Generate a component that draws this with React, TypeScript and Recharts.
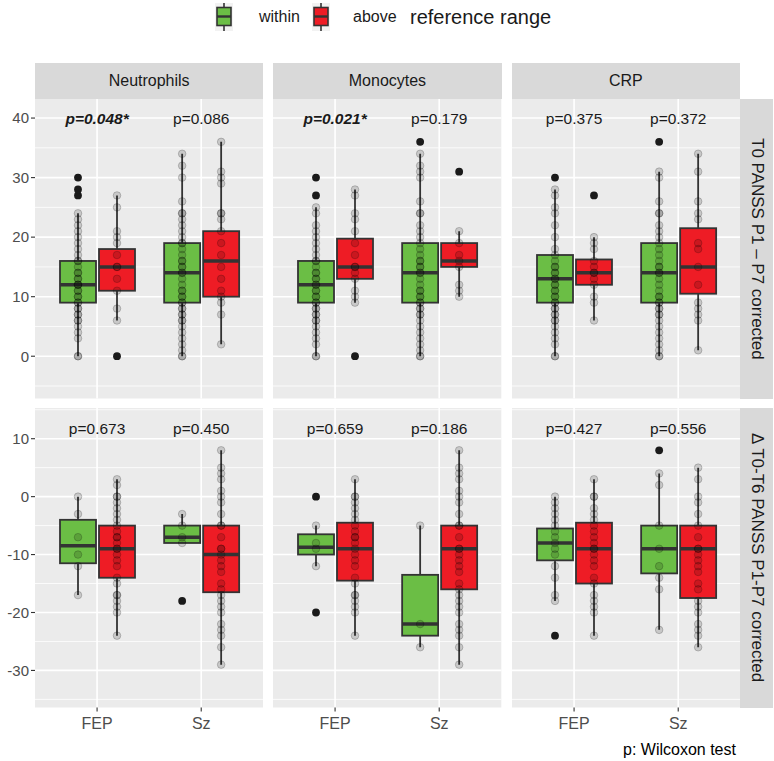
import React from 'react';
import { ComposedChart, Bar, XAxis, YAxis, CartesianGrid, ReferenceDot } from 'recharts';

const FONT = '"Liberation Sans", Arial, Helvetica, sans-serif';
const GREEN = '#6BBE45';
const RED = '#EE1C25';

const categories = ['FEP', 'Sz'];
const markers = ['Neutrophils', 'Monocytes', 'CRP'];
const rowLabels = ['T0 PANSS P1 – P7 corrected', 'Δ T0-T6 PANSS P1-P7 corrected'];

// box stats per category: [lower whisker, Q1, median, Q3, upper whisker]
const t0NeutWithin = [[0, 9, 12, 16, 24], [0, 9, 14, 19, 34]];
const t0NeutAbove = [[6, 11, 15, 18, 27], [2, 10, 16, 21, 36]];
const t0MonoWithin = [[0, 9, 12, 16, 25], [0, 9, 14, 19, 34]];
const t0MonoAbove = [[9, 13, 15, 19.75, 28], [10, 15, 16, 19, 21]];
const t0CrpWithin = [[0, 9, 13, 17, 28], [0, 9, 14, 19, 31]];
const t0CrpAbove = [[6, 12, 14, 16.25, 20], [1, 10.5, 15, 21.5, 34]];
const dNeutWithin = [[-17, -11.5, -8.5, -4, 0], [-8, -8, -7, -5, -3]];
const dNeutAbove = [[-24, -14, -9, -5, 3], [-29, -16.5, -10, -5, 8]];
const dMonoWithin = [[-12, -10, -8.75, -6.5, -5], [-26, -24, -22, -13.5, -5]];
const dMonoAbove = [[-24, -14.5, -9, -4.5, 3], [-29, -16, -9, -5, 8]];
const dCrpWithin = [[-18, -11, -8, -5.5, 0], [-23, -13.25, -9, -5, 4]];
const dCrpAbove = [[-24, -15, -9, -4.5, 3], [-26, -17.5, -9, -5, 5]];

// individual observations (jittered points), per category
const t0NeutWithinPts = [
  [0, 0, 3, 4, 5, 6, 6, 7, 7, 8, 8, 9, 9, 10, 10, 11, 11, 12, 12, 12, 13, 13, 14, 14, 15, 16, 16, 17, 18, 19, 20, 21, 22, 23, 24],
  [0, 0, 1, 2, 3, 4, 5, 6, 6, 7, 7, 8, 8, 9, 9, 10, 10, 11, 11, 12, 13, 14, 14, 15, 15, 16, 16, 17, 18, 19, 19, 20, 21, 22, 23, 24, 24, 26, 30, 32, 34],
];
const t0NeutAbovePts = [
  [6, 8, 11, 13, 15, 15, 17, 19, 20, 21, 25, 27],
  [2, 7, 9, 10, 11, 13, 15, 17, 19, 21, 23, 24, 24, 29, 30, 31, 36],
];
const t0MonoWithinPts = [
  [0, 0, 2, 3, 4, 5, 6, 6, 7, 7, 8, 8, 9, 9, 10, 10, 11, 11, 12, 12, 13, 13, 14, 14, 15, 16, 16, 17, 18, 19, 20, 21, 22, 24, 25],
  [0, 0, 1, 2, 3, 4, 5, 6, 7, 7, 8, 8, 9, 9, 10, 10, 11, 11, 12, 13, 14, 14, 15, 15, 16, 16, 17, 18, 19, 20, 21, 22, 24, 24, 26, 30, 31, 32, 34],
];
const t0MonoAbovePts = [
  [9, 10, 11, 13, 14, 15, 15, 17, 19, 21, 23, 24, 27, 28],
  [10, 11, 12, 15, 16, 17, 19, 21],
];
const t0CrpWithinPts = [
  [0, 0, 2, 3, 4, 5, 6, 6, 7, 7, 8, 8, 9, 9, 10, 10, 11, 11, 12, 12, 13, 13, 14, 14, 15, 15, 16, 17, 18, 20, 22, 24, 25, 27, 28],
  [0, 0, 1, 2, 3, 4, 5, 6, 7, 7, 8, 8, 9, 9, 10, 10, 11, 12, 13, 14, 14, 15, 15, 16, 17, 18, 19, 20, 21, 22, 24, 24, 26, 30, 31],
];
const t0CrpAbovePts = [
  [6, 9, 10, 12, 13, 14, 14, 15, 16, 18, 19, 20],
  [1, 6, 7, 8, 9, 12, 15, 18, 19, 23, 24, 26, 31, 34],
];
const dNeutWithinPts = [[0, -3, -7, -10, -12, -17], [-3, -5, -7, -8]];
const dNeutAbovePts = [
  [3, 2, 0, 0, -1, -2, -3, -4, -5, -6, -7, -7, -8, -9, -9, -10, -11, -12, -14, -15, -17, -17, -18, -19, -20, -24],
  [8, 5, 4, 3, 1, 0, -1, -3, -5, -5, -7, -9, -9, -10, -11, -12, -13, -15, -16, -17, -18, -19, -20, -22, -23, -24, -26, -29],
];
const dMonoWithinPts = [[-5, -8, -9, -12], [-5, -22, -26]];
const dMonoAbovePts = [
  [3, 0, 0, -1, -2, -3, -4, -5, -6, -7, -7, -8, -9, -10, -11, -12, -14, -15, -17, -17, -18, -19, -20, -24],
  [8, 5, 4, 3, 1, 0, -1, -3, -5, -5, -7, -9, -9, -10, -11, -12, -13, -15, -16, -17, -18, -19, -20, -22, -23, -24, -26, -29],
];
const dCrpWithinPts = [
  [0, -1, -2, -3, -4, -5, -6, -7, -8, -9, -10, -12, -14, -17, -18],
  [4, 2, -5, -9, -12, -14, -16, -23],
];
const dCrpAbovePts = [
  [3, 0, 0, -2, -3, -4, -5, -6, -7, -8, -9, -9, -10, -11, -12, -14, -15, -17, -18, -19, -20, -24],
  [5, 3, 0, -1, -3, -5, -7, -9, -9, -10, -11, -12, -13, -15, -16, -18, -19, -20, -22, -23, -24, -26],
];

// outliers drawn by the boxplot
const t0NeutWithinOut = [[27, 28, 30], []];
const t0NeutAboveOut = [[0], []];
const t0MonoWithinOut = [[27, 30], [36]];
const t0MonoAboveOut = [[0], [31]];
const t0CrpWithinOut = [[30], [36]];
const t0CrpAboveOut = [[27], []];
const dNeutWithinOut = [[], [-18]];
const dNeutAboveOut = [[], []];
const dMonoWithinOut = [[0, -20], []];
const dMonoAboveOut = [[], []];
const dCrpWithinOut = [[-24], [8]];
const dCrpAboveOut = [[], []];

// Wilcoxon p-values
const t0PValues = [['p=0.048*', 'p=0.086'], ['p=0.021*', 'p=0.179'], ['p=0.375', 'p=0.372']];
const dPValues = [['p=0.673', 'p=0.450'], ['p=0.659', 'p=0.186'], ['p=0.427', 'p=0.556']];
const pLabelAt = [40, 11.8];

const yDomains = [[-7.1, 43.2], [-36.4, 15.3]];
const yTicks = [[0, 10, 20, 30, 40], [-30, -20, -10, 0, 10]];
const yMinor = [[-5, 5, 15, 25, 35], [-35, -25, -15, -5, 5, 15]];

const panelRows = [
  [
    { w: t0NeutWithin, a: t0NeutAbove, wp: t0NeutWithinPts, ap: t0NeutAbovePts, wo: t0NeutWithinOut, ao: t0NeutAboveOut, p: t0PValues[0] },
    { w: t0MonoWithin, a: t0MonoAbove, wp: t0MonoWithinPts, ap: t0MonoAbovePts, wo: t0MonoWithinOut, ao: t0MonoAboveOut, p: t0PValues[1] },
    { w: t0CrpWithin, a: t0CrpAbove, wp: t0CrpWithinPts, ap: t0CrpAbovePts, wo: t0CrpWithinOut, ao: t0CrpAboveOut, p: t0PValues[2] },
  ],
  [
    { w: dNeutWithin, a: dNeutAbove, wp: dNeutWithinPts, ap: dNeutAbovePts, wo: dNeutWithinOut, ao: dNeutAboveOut, p: dPValues[0] },
    { w: dMonoWithin, a: dMonoAbove, wp: dMonoWithinPts, ap: dMonoAbovePts, wo: dMonoWithinOut, ao: dMonoAboveOut, p: dPValues[1] },
    { w: dCrpWithin, a: dCrpAbove, wp: dCrpWithinPts, ap: dCrpAbovePts, wo: dCrpWithinOut, ao: dCrpAboveOut, p: dPValues[2] },
  ],
];

const COL_X = [35, 273.3, 511.7];
const ROW_Y = [99, 408];
const PANEL_W = 228.3;
const PANEL_H = 299.5;
const AXIS_W = 35;
const XAXIS_H = 30;

const makeBoxShape = (key: 'w' | 'a', fill: string) => (props: any) => {
  const { x, y, width, height, payload } = props;
  const [lo, hi] = payload[key + 'Range'];
  const toY = (v: number) => y + ((hi - v) / (hi - lo)) * height;
  const [wl, q1, med, q3, wh] = payload[key + 'Box'];
  const pts: number[] = payload[key + 'Pts'];
  const out: number[] = payload[key + 'Out'];
  const cx = x + width / 2;
  return (
    <g>
      <line x1={cx} x2={cx} y1={toY(wh)} y2={toY(wl)} stroke="#333" strokeWidth={1.8} />
      <rect x={x} y={toY(q3)} width={width} height={toY(q1) - toY(q3)} fill={fill} stroke="#333" strokeWidth={1.8} />
      <line x1={x} x2={x + width} y1={toY(med)} y2={toY(med)} stroke="#333" strokeWidth={3.5} />
      {out.map((v, i) => (
        <circle key={'o' + i} cx={cx} cy={toY(v)} r={3.9} fill="#1A1A1A" />
      ))}
      {pts.map((v, i) => (
        <circle key={'p' + i} cx={cx} cy={toY(v)} r={3.8} fill="#000" fillOpacity={0.15} stroke="#000" strokeOpacity={0.2} strokeWidth={1} />
      ))}
    </g>
  );
};

const withinShape = makeBoxShape('w', GREEN);
const aboveShape = makeBoxShape('a', RED);

function FacetPanel({ row, col }: { row: number; col: number }) {
  const pn = panelRows[row][col];
  const range = (box: number[], pts: number[], out: number[]) => {
    const all = [...box, ...pts, ...out];
    return [Math.min(...all), Math.max(...all)];
  };
  const data = categories.map((cat, i) => ({
    cat,
    wRange: range(pn.w[i], pn.wp[i], pn.wo[i]),
    aRange: range(pn.a[i], pn.ap[i], pn.ao[i]),
    wBox: pn.w[i],
    aBox: pn.a[i],
    wPts: pn.wp[i],
    aPts: pn.ap[i],
    wOut: pn.wo[i],
    aOut: pn.ao[i],
  }));
  const showY = col === 0;
  const showX = row === 1;
  const width = PANEL_W + (showY ? AXIS_W : 0);
  const height = PANEL_H + (showX ? XAXIS_H : 0);
  const left = showY ? COL_X[0] - AXIS_W : COL_X[col];
  return (
    <div style={{ position: 'absolute', left, top: ROW_Y[row], width, height }}>
      <ComposedChart width={width} height={height} data={data} margin={{ top: 0, right: 0, bottom: 0, left: 0 }} barGap={3}>
        <CartesianGrid
          fill="#EBEBEB"
          stroke="#FFFFFF"
          strokeWidth={0.8}
          vertical={false}
          horizontalValues={yMinor[row]}
        />
        <CartesianGrid
          stroke="#FFFFFF"
          strokeWidth={1.6}
          horizontalValues={yTicks[row]}
          verticalValues={categories}
        />
        <XAxis
          dataKey="cat"
          type="category"
          hide={!showX}
          height={XAXIS_H}
          padding={{ left: 10, right: 10 }}
          axisLine={false}
          tickSize={4}
          tickMargin={6}
          tickLine={{ stroke: '#333', strokeWidth: 1.1 }}
          tick={{ fill: '#4D4D4D', fontSize: 16, fontFamily: FONT }}
        />
        <YAxis
          type="number"
          domain={yDomains[row]}
          ticks={yTicks[row]}
          allowDataOverflow
          hide={!showY}
          width={AXIS_W}
          axisLine={false}
          tickSize={4}
          tickMargin={2}
          tickLine={{ stroke: '#333', strokeWidth: 1.1 }}
          tick={{ fill: '#4D4D4D', fontSize: 15, fontFamily: FONT }}
        />
        <Bar dataKey="wRange" barSize={36} shape={withinShape} isAnimationActive={false} />
        <Bar dataKey="aRange" barSize={36} shape={aboveShape} isAnimationActive={false} />
        {categories.map((cat, i) => {
          const label = pn.p[i];
          const bold = label.endsWith('*');
          return (
            <ReferenceDot
              key={cat}
              x={cat}
              y={pLabelAt[row]}
              r={0}
              shape={(sp: any) => (
                <text
                  x={sp.cx}
                  y={sp.cy}
                  dy="0.36em"
                  textAnchor="middle"
                  fontSize={15.5}
                  fontFamily={FONT}
                  fill="#1A1A1A"
                  fontWeight={bold ? 'bold' : 'normal'}
                  fontStyle={bold ? 'italic' : 'normal'}
                >
                  {label}
                </text>
              )}
            />
          );
        })}
      </ComposedChart>
    </div>
  );
}

function LegendKey({ fill, left }: { fill: string; left: number }) {
  return (
    <svg style={{ position: 'absolute', left, top: 3 }} width={18} height={28}>
      <rect x={0} y={0} width={18} height={28} fill="#F2F2F2" />
      <line x1={9} x2={9} y1={0} y2={28} stroke="#333" strokeWidth={1.6} />
      <rect x={2} y={4.5} width={14} height={18} fill={fill} stroke="#333" strokeWidth={1.6} />
      <line x1={2} x2={16} y1={13.5} y2={13.5} stroke="#333" strokeWidth={2.4} />
    </svg>
  );
}

export default function App() {
  const textStyle = { position: 'absolute' as const, lineHeight: '18px', color: '#1A1A1A', whiteSpace: 'nowrap' as const };
  return (
    <div style={{ position: 'absolute', left: 0, top: 0, width: 774, height: 761, background: '#fff', fontFamily: FONT, overflow: 'hidden' }}>
      <LegendKey fill={GREEN} left={215} />
      <div style={{ ...textStyle, left: 259, top: 8, fontSize: 16 }}>within</div>
      <LegendKey fill={RED} left={312} />
      <div style={{ ...textStyle, left: 353, top: 8, fontSize: 16 }}>above</div>
      <div style={{ ...textStyle, left: 410, top: 6, fontSize: 20, lineHeight: '22px' }}>reference range</div>

      {markers.map((m, c) => (
        <div
          key={m}
          style={{
            position: 'absolute', left: COL_X[c], top: 63, width: PANEL_W, height: 36, background: '#D9D9D9',
            display: 'flex', alignItems: 'center', justifyContent: 'center', fontSize: 16, color: '#1A1A1A',
          }}
        >
          {m}
        </div>
      ))}
      {rowLabels.map((r, i) => (
        <div
          key={r}
          style={{
            position: 'absolute', left: 740, top: ROW_Y[i], width: 33, height: PANEL_H, background: '#D9D9D9',
            display: 'flex', alignItems: 'center', justifyContent: 'center',
          }}
        >
          <span style={{ writingMode: 'vertical-rl', fontSize: 17, color: '#1A1A1A', whiteSpace: 'nowrap' }}>{r}</span>
        </div>
      ))}

      {[0, 1].map((row) => [0, 1, 2].map((col) => <FacetPanel key={row + '-' + col} row={row} col={col} />))}

      <div style={{ ...textStyle, left: 623, top: 741, fontSize: 16, color: '#000' }}>p: Wilcoxon test</div>
    </div>
  );
}
